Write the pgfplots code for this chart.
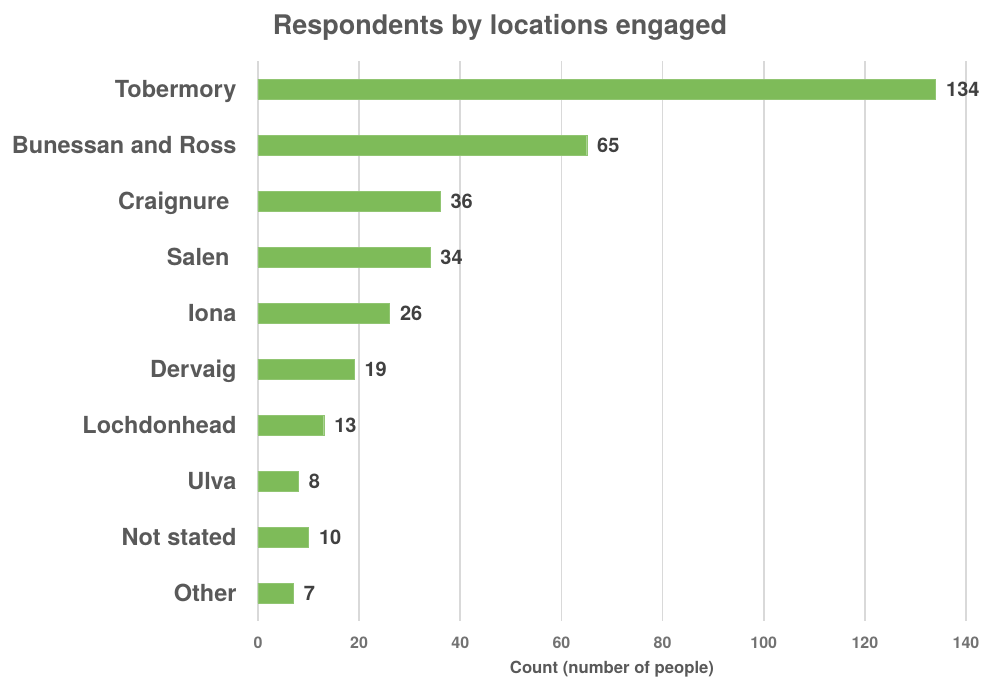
\documentclass[border=0pt]{standalone}
\usepackage{fontspec}
\setmainfont{TeX Gyre Heros}
\usepackage{pgfplots}
\pgfplotsset{compat=1.18}
\definecolor{bargreen}{RGB}{126,187,89}
\definecolor{txtgray}{RGB}{89,89,89}
\definecolor{valgray}{RGB}{64,64,64}
\definecolor{gridgray}{RGB}{217,217,217}
\begin{document}
\begin{tikzpicture}[x=1pt,y=1pt]
\path[use as bounding box] (-258,-59) rectangle (726,621);
\begin{axis}[
  at={(0,0)}, anchor=south west,
  scale only axis,
  width=708pt, height=560pt,
  xmin=0, xmax=140,
  ymin=-0.5, ymax=9.5,
  y dir=reverse,
  axis line style={draw=none},
  xmajorgrids=true,
  grid style={gridgray, line width=1.6pt},
  xtick={0,20,...,140},
  ytick={0,...,9},
  yticklabels={Tobermory, Bunessan and Ross, Craignure\hspace*{7pt}, Salen\hspace*{7pt}, Iona, Dervaig, Lochdonhead, Ulva, Not stated, Other},
  major tick length=0pt,
  yticklabel style={font=\fontsize{23.5}{27}\selectfont\bfseries, text=txtgray, xshift=-18pt, yshift=-2pt, text height=17pt, text depth=5pt, anchor=east},
  xticklabel style={font=\fontsize{16}{19}\selectfont\bfseries, text=txtgray!85!white, yshift=-12pt},
  /pgf/number format/assume math mode=true,
  xlabel={Count (number of people)},
  xlabel style={font=\fontsize{16.7}{20}\selectfont\bfseries, text=txtgray, yshift=-6pt},
  clip=false,
]
\addplot[xbar, bar width=20pt, fill=bargreen, draw=bargreen!85!white,
  nodes near coords,
  nodes near coords style={font=\fontsize{20}{23}\selectfont\bfseries, text=valgray, anchor=west, xshift=7pt},
  point meta=x]
 coordinates {(134,0) (65,1) (36,2) (34,3) (26,4) (19,5) (13,6) (8,7) (10,8) (7,9)};
\end{axis}
\node[font=\fontsize{27}{31}\selectfont\bfseries, text=txtgray] at (242,594) {Respondents by locations engaged};
\end{tikzpicture}
\end{document}
